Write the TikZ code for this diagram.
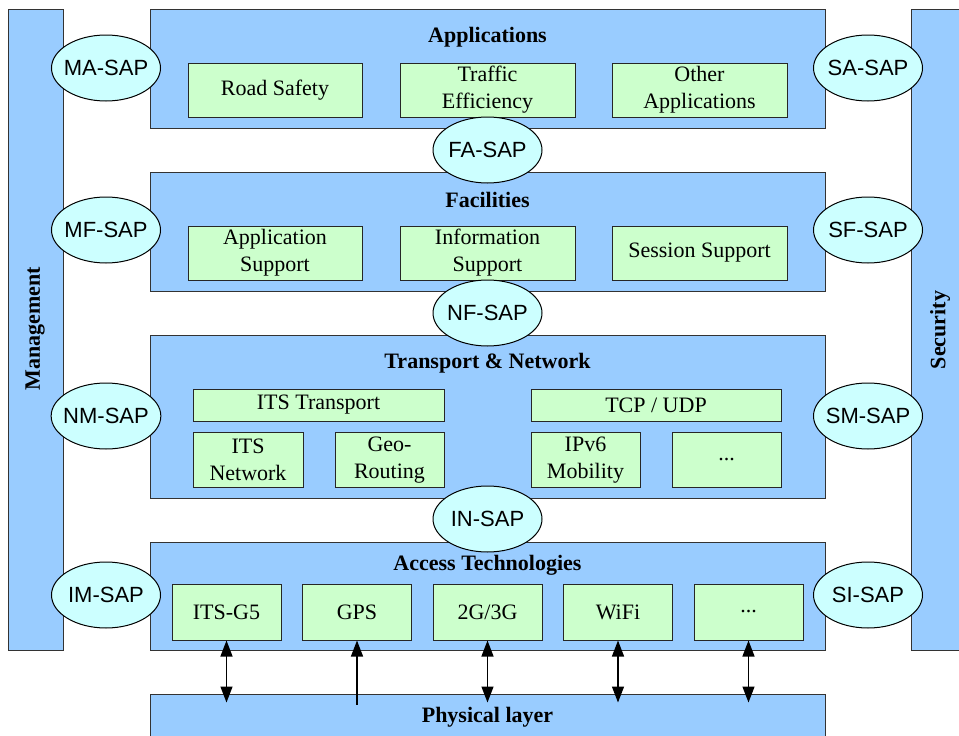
\documentclass[tikz,border=0pt]{standalone}
\usepackage{fontspec}
\setmainfont{Liberation Serif}
\setsansfont{Liberation Sans}
\usetikzlibrary{shapes.geometric,arrows.meta}
\definecolor{layerblue}{HTML}{99CCFF}
\definecolor{boxgreen}{HTML}{CCFFCC}
\definecolor{sapcyan}{HTML}{CCFFFF}

\begin{document}
\begin{tikzpicture}[x=1pt, y=-1pt,
          font=\fontsize{22}{27}\selectfont,
          layer/.style={draw=black!80, line width=1pt, fill=layerblue, inner sep=0pt},
          title/.style={font=\fontsize{22}{27}\selectfont\bfseries},
          block/.style={draw=black!85, line width=1pt, fill=boxgreen, align=center, inner sep=0pt},
          sap/.style={ellipse, draw=black, line width=1pt, fill=sapcyan, minimum width=109pt, minimum height=66pt, inner xsep=-4pt, inner ysep=0pt, font=\fontsize{22}{26}\selectfont\sffamily},
          link/.style={line width=1.3pt, {Triangle[length=16pt,width=12pt]}-{Triangle[length=16pt,width=12pt]}},
          uplink/.style={line width=1.3pt, -{Triangle[length=16pt,width=12pt]}}]
        \useasboundingbox (0,0) rectangle (959,736);
        % side bars
        \node[layer, minimum width=55pt, minimum height=641pt] (mgmt) at (35.5,329.5) {};
        \node[title, rotate=90] at (35,329) {Management};
        \node[layer, minimum width=55pt, minimum height=641pt] (sec) at (938.5,329.5) {};
        \node[title, rotate=90] at (940,330) {Security};
        % layers
        \node[layer, minimum width=675pt, minimum height=119pt] (app) at (487.5,68.5) {};
        \node[layer, minimum width=675pt, minimum height=119pt] (fac) at (487.5,231.5) {};
        \node[layer, minimum width=675pt, minimum height=163pt] (tn) at (487.5,416.5) {};
        \node[layer, minimum width=675pt, minimum height=108pt] (acc) at (487.5,596) {};
        \node[layer, minimum width=675pt, minimum height=60pt] (phy) at (487.5,724) {};
        \node[title] at (487.5,37) {Applications};
        \node[title] at (487.5,200) {Facilities};
        \node[title] at (487.5,363) {Transport \& Network};
        \node[title] at (487.5,565) {Access Technologies};
        \node[title] at (487.5,717) {Physical layer};
        % applications
        \node[block, minimum width=174pt, minimum height=54pt] (rs) at (275,90) {Road Safety};
        \node[block, minimum width=175pt, minimum height=54pt] (te) at (487.5,90) {Traffic\\Efficiency};
        \node[block, minimum width=175pt, minimum height=54pt] (oa) at (699.5,90) {Other\\Applications};
        % facilities
        \node[block, minimum width=174pt, minimum height=54pt] (as) at (275,253) {Application\\Support};
        \node[block, minimum width=175pt, minimum height=54pt] (is) at (487.5,253) {Information\\Support};
        \node[block, minimum width=175pt, minimum height=54pt] (ss) at (699.5,253) {Session Support};
        % transport & network
        \node[block, minimum width=251pt, minimum height=32pt] (itst) at (318.5,405) {ITS Transport};
        \node[block, minimum width=250pt, minimum height=32pt] (tcp) at (656,405) {TCP / UDP};
        \node[block, minimum width=110pt, minimum height=55pt] (itsn) at (248,460) {ITS\\Network};
        \node[block, minimum width=109pt, minimum height=55pt] (geo) at (389.5,460) {Geo-\\Routing};
        \node[block, minimum width=109pt, minimum height=55pt] (ipv6) at (585.5,460) {IPv6\\Mobility};
        \node[block, minimum width=109pt, minimum height=55pt] (tnmore) at (726.5,460) {...};
        % access technologies
        \node[block, minimum width=109pt, minimum height=56pt] (g5) at (226.5,612) {ITS-G5};
        \node[block, minimum width=109pt, minimum height=56pt] (gps) at (357,612) {GPS};
        \node[block, minimum width=109pt, minimum height=56pt] (cell) at (487.5,612) {2G/3G};
        \node[block, minimum width=109pt, minimum height=56pt] (wifi) at (618,612) {WiFi};
        \node[block, minimum width=109pt, minimum height=56pt] (accmore) at (748.5,612) {...};
        % service access points
        \node[sap] (ma) at (106,68) {MA-SAP};
        \node[sap] (sa) at (868,68) {SA-SAP};
        \node[sap] (fa) at (487.5,150) {FA-SAP};
        \node[sap] (mf) at (106,230) {MF-SAP};
        \node[sap] (sf) at (868,230) {SF-SAP};
        \node[sap] (nf) at (487.5,313) {NF-SAP};
        \node[sap] (nm) at (106,416) {NM-SAP};
        \node[sap] (sm) at (868,416) {SM-SAP};
        \node[sap] (in) at (487.5,519) {IN-SAP};
        \node[sap] (im) at (106,595) {IM-SAP};
        \node[sap] (si) at (868,595) {SI-SAP};
        % links to physical layer
        \draw[link] (g5.south) -- ([yshift=-9pt]g5.south |- phy.north);
        \draw[uplink] ([yshift=-11pt]gps.south |- phy.north) -- (gps.south);
        \draw[link] (cell.south) -- ([yshift=-9pt]cell.south |- phy.north);
        \draw[link] (wifi.south) -- ([yshift=-9pt]wifi.south |- phy.north);
        \draw[link] (accmore.south) -- ([yshift=-9pt]accmore.south |- phy.north);
      \end{tikzpicture}
\end{document}
